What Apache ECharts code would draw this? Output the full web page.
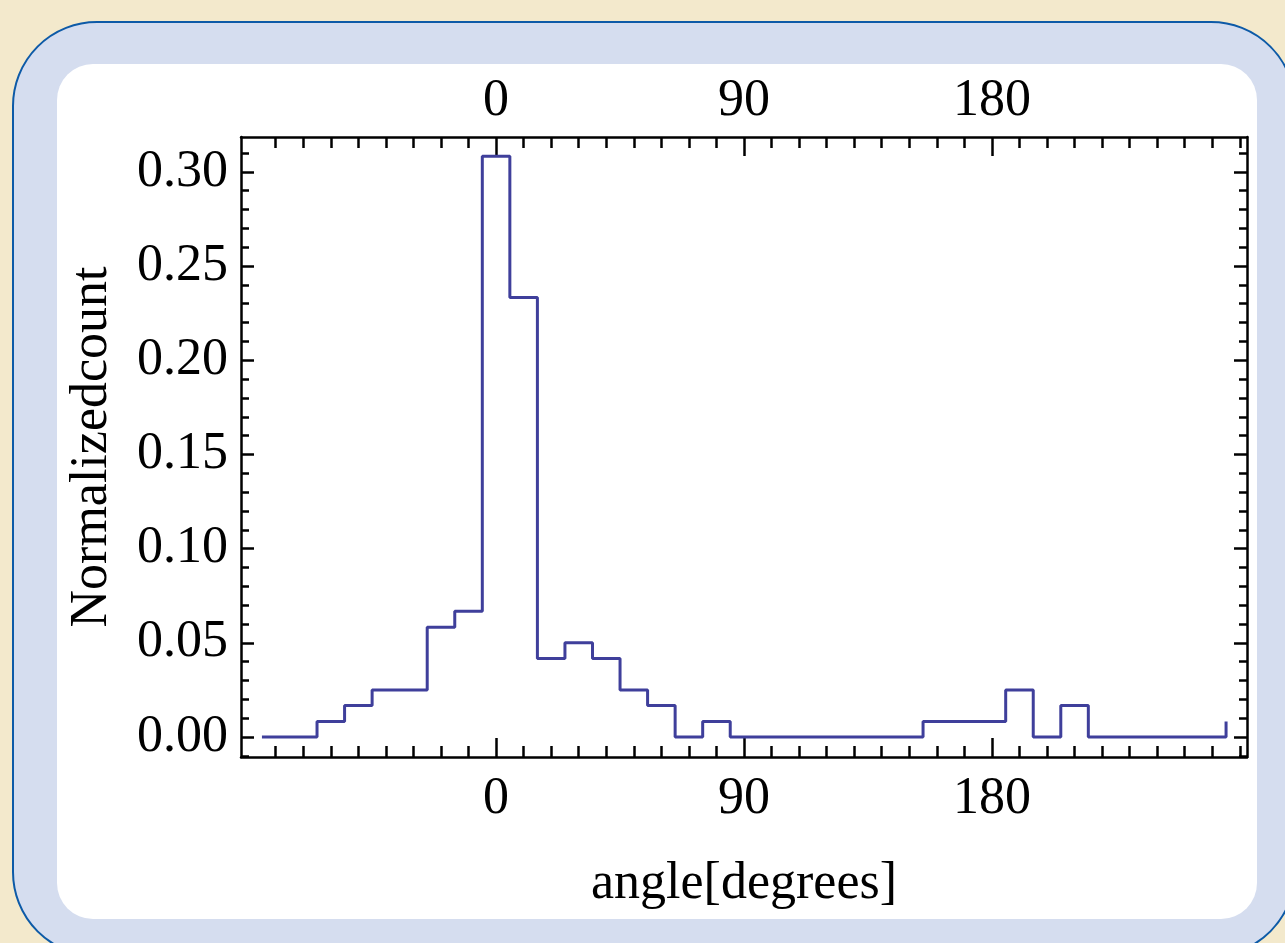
<!DOCTYPE html>
<html>
<head>
<meta charset="utf-8">
<script src="https://cdn.jsdelivr.net/npm/echarts@6/dist/echarts.min.js"></script>
<style>
  html, body { margin: 0; padding: 0; }
  #page { position: relative; width: 1285px; height: 943px; overflow: hidden; background: #f3e9cc; }
  #outer { position: absolute; left: 12px; top: 21px; width: 1284px; height: 936px; box-sizing: border-box;
           border: 2.5px solid #0d5aa7; border-radius: 85px; background: #d5ddef; }
  #inner { position: absolute; left: 57px; top: 64px; width: 1200px; height: 855px; border-radius: 36px; background: #fff; }
  #chart { position: absolute; left: 0; top: 0; width: 1285px; height: 943px; }
</style>
</head>
<body>
<div id="page">
  <div id="outer"></div>
  <div id="inner"></div>
  <div id="chart"></div>
</div>
<script>
// histogram bins (left edge, degrees) and normalized counts
var binStart = [-85, -75, -65, -55, -45, -35, -25, -15, -5, 5, 15, 25, 35, 45, 55, 65, 75, 85,
                95, 105, 115, 125, 135, 145, 155, 165, 175, 185, 195, 205, 215, 225, 235, 245, 255, 265];
var normCount = [0, 0, 0.0083, 0.0167, 0.025, 0.025, 0.0583, 0.0667, 0.3083, 0.2333, 0.0417, 0.05,
                 0.0417, 0.025, 0.0167, 0, 0.0083, 0, 0, 0, 0, 0, 0, 0, 0.0083, 0.0083, 0.0083,
                 0.025, 0, 0.0167, 0, 0, 0, 0, 0, 0.0083];

var xMajorTicks = [0, 90, 180];
var yMajorTicks = [0, 0.05, 0.10, 0.15, 0.20, 0.25, 0.30];

var xMinorTicks = [];
for (var t = -80; t <= 270; t += 10) {
  if (xMajorTicks.indexOf(t) < 0) xMinorTicks.push(t);
}
var yMinorTicks = [];
for (var k = -1; k <= 31; k++) {
  if (k % 5 !== 0) yMinorTicks.push(k / 100);
}

var xMin = -92.6, xMax = 272.6;
var yMin = -0.0106, yMax = 0.3185;

var font = 'Liberation Serif';
var fsize = 52;
var black = '#000';

var data = [];
for (var i = 0; i < binStart.length; i++) {
  data.push([binStart[i], normCount[i]]);
}

function xAxisDef(pos, ticks, len, withLabel, withLine, extra) {
  var ax = {
    type: 'value', position: pos, min: xMin, max: xMax,
    splitLine: { show: false },
    axisLine: { show: withLine, onZero: false, lineStyle: { color: black, width: 2.5 } },
    axisTick: { show: true, inside: true, length: len, customValues: ticks,
                lineStyle: { color: black, width: 2.5 } },
    axisLabel: withLabel
      ? { show: true, customValues: ticks, color: black, fontFamily: font, fontSize: fsize,
          margin: pos === 'top' ? 10 : 16 }
      : { show: false }
  };
  for (var key in extra) ax[key] = extra[key];
  return ax;
}

function yAxisDef(pos, ticks, len, withLabel, withLine, extra) {
  var ax = {
    type: 'value', position: pos, min: yMin, max: yMax,
    splitLine: { show: false },
    axisLine: { show: withLine, onZero: false, lineStyle: { color: black, width: 2.5 } },
    axisTick: { show: true, inside: true, length: len, customValues: ticks,
                lineStyle: { color: black, width: 2.5 } },
    axisLabel: withLabel
      ? { show: true, customValues: ticks, color: black, fontFamily: font, fontSize: fsize, margin: 13,
          padding: [4, 0, 0, 0],
          formatter: function (v) { return v.toFixed(2); } }
      : { show: false }
  };
  for (var key in extra) ax[key] = extra[key];
  return ax;
}

var myChart = echarts.init(document.getElementById('chart'), null, { renderer: 'canvas' });

var option = {
  backgroundColor: 'transparent',
  animation: false,
  grid: { left: 241, top: 137, right: 38, bottom: 186, containLabel: false },
  xAxis: [
    xAxisDef('bottom', xMajorTicks, 19, true, true, {
      name: 'angle[degrees]', nameLocation: 'middle', nameGap: 101,
      nameTextStyle: { color: black, fontFamily: font, fontSize: fsize }
    }),
    xAxisDef('bottom', xMinorTicks, 11, false, false, {}),
    xAxisDef('top', xMajorTicks, 19, true, true, {}),
    xAxisDef('top', xMinorTicks, 11, false, false, {})
  ],
  yAxis: [
    yAxisDef('left', yMajorTicks, 13, true, true, {
      name: 'Normalizedcount', nameLocation: 'middle', nameGap: 123,
      nameTextStyle: { color: black, fontFamily: font, fontSize: fsize }
    }),
    yAxisDef('left', yMinorTicks, 8, false, false, {}),
    yAxisDef('right', yMajorTicks, 13, false, true, {}),
    yAxisDef('right', yMinorTicks, 8, false, false, {})
  ],
  series: [
    {
      type: 'line',
      step: 'end',
      xAxisIndex: 0,
      yAxisIndex: 0,
      symbol: 'none',
      lineStyle: { color: '#3f3f9b', width: 3 },
      data: data
    }
  ]
};

myChart.setOption(option);
</script>
</body>
</html>
